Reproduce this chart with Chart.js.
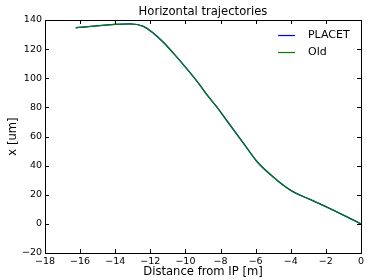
<!DOCTYPE html>
<html lang="en">
<head>
  <meta charset="UTF-8">
  <title>Horizontal trajectories</title>
  <script src="https://cdn.jsdelivr.net/npm/chart.js"></script>
  <style>
    body {
      margin: 0;
      padding: 0;
      background-color: white;
    }

    #wrap {
      width: 367px;
      height: 280px;
    }
  </style>
</head>
<body>

  <div id="wrap"><canvas id="grafico"></canvas></div>

  <script>
    // values
    const distance = [-16.25, -13.15, -12.4, -11.83, -11.26, -10.7, -10.0, -9.27, -8.7, -8.13, -7.65, -6.7, -5.94, -5.0, -4.0, -3.0, -2.0, -1.0, 0];
    const placet = [134.7, 137.4, 135.7, 131.0, 124.7, 117.4, 107.6, 96.8, 87.5, 79.0, 71.0, 55.5, 43.0, 32.2, 23.0, 17.3, 11.8, 6.0, 0];
    const old = [134.7, 137.4, 135.7, 131.0, 124.7, 117.4, 107.6, 96.8, 87.5, 79.0, 71.0, 55.5, 43.0, 32.2, 23.0, 17.3, 11.8, 6.0, 0];

    const xTicks = [-18, -16, -14, -12, -10, -8, -6, -4, -2, 0];
    const yTicks = [-20, 0, 20, 40, 60, 80, 100, 120, 140];

    const pontos = (ys) => distance.map((d, i) => ({ x: d, y: ys[i] }));
    const menos = (v) => String(v).replace("-", "\u2212");

    // frame + inward ticks on all four sides, matplotlib style
    const moldura = {
      id: "moldura",
      afterDraw(chart) {
        const { ctx, chartArea: a, scales } = chart;
        ctx.save();
        ctx.strokeStyle = "#000";
        ctx.lineWidth = 1;
        ctx.beginPath();
        xTicks.forEach(v => {
          const px = Math.round(scales.x.getPixelForValue(v)) + 0.5;
          ctx.moveTo(px, a.bottom); ctx.lineTo(px, a.bottom - 4);
          ctx.moveTo(px, a.top); ctx.lineTo(px, a.top + 4);
        });
        yTicks.forEach(v => {
          const py = Math.round(scales.y.getPixelForValue(v)) + 0.5;
          ctx.moveTo(a.left, py); ctx.lineTo(a.left + 4, py);
          ctx.moveTo(a.right, py); ctx.lineTo(a.right - 4, py);
        });
        ctx.stroke();
        ctx.strokeRect(Math.round(a.left) + 0.5, Math.round(a.top) + 0.5,
          Math.round(a.right - a.left), Math.round(a.bottom - a.top));

        // legend inside the top right corner
        ctx.font = "11px 'DejaVu Sans'";
        ctx.textBaseline = "middle";
        ctx.fillStyle = "#000";
        chart.data.datasets.forEach((ds, i) => {
          const y = a.top + 15.5 + i * 17;
          ctx.strokeStyle = ds.borderColor;
          ctx.lineWidth = 1.2;
          ctx.beginPath();
          ctx.moveTo(a.right - 83, y);
          ctx.lineTo(a.right - 66, y);
          ctx.stroke();
          ctx.fillText(ds.label, a.right - 53, y);
        });
        ctx.restore();
      }
    };

    new Chart(document.getElementById("grafico"), {
      type: "line",
      data: {
        datasets: [
          {
            label: "PLACET",
            data: pontos(placet),
            borderColor: "#0000ff",
            borderWidth: 1.3,
            pointRadius: 0,
            cubicInterpolationMode: "monotone",
            fill: false,
            order: 2
          },
          {
            label: "Old",
            data: pontos(old),
            borderColor: "#008000",
            borderWidth: 1.2,
            pointRadius: 0,
            cubicInterpolationMode: "monotone",
            fill: false,
            order: 1
          }
        ]
      },
      options: {
        responsive: true,
        maintainAspectRatio: false,
        animation: false,
        layout: { padding: { left: 0, right: 6, top: 0, bottom: 0 } },
        plugins: {
          legend: { display: false },
          tooltip: { enabled: false },
          title: {
            display: true,
            fullSize: false,
            text: "Horizontal trajectories",
            color: "#000",
            font: { family: "'DejaVu Sans'", size: 11.6, weight: "normal" },
            padding: { top: 5, bottom: 1.1 }
          }
        },
        scales: {
          x: {
            type: "linear",
            min: -18,
            max: 0,
            afterBuildTicks: (s) => { s.ticks = xTicks.map(v => ({ value: v })); },
            afterFit: (s) => { s.height = 27; },
            grid: { display: false, drawTicks: false },
            border: { display: false },
            ticks: {
              color: "#000",
              padding: 3,
              maxRotation: 0,
              font: { family: "'DejaVu Sans'", size: 9.5 },
              callback: (v) => menos(v)
            },
            title: {
              display: true,
              text: "Distance from IP [m]",
              color: "#000",
              font: { family: "'DejaVu Sans'", size: 11.6 },
              padding: { top: 0, bottom: 1.5 }
            }
          },
          y: {
            min: -20,
            max: 140,
            afterBuildTicks: (s) => { s.ticks = yTicks.map(v => ({ value: v })); },
            afterFit: (s) => { s.width = 45; },
            grid: { display: false, drawTicks: false },
            border: { display: false },
            ticks: {
              color: "#000",
              padding: 3,
              font: { family: "'DejaVu Sans'", size: 9.5 },
              callback: (v) => menos(v)
            },
            title: {
              display: true,
              text: "x [um]",
              color: "#000",
              font: { family: "'DejaVu Sans'", size: 11.6 },
              padding: { top: 6, bottom: 0 }
            }
          }
        }
      },
      plugins: [moldura]
    });
  </script>

</body>
</html>
